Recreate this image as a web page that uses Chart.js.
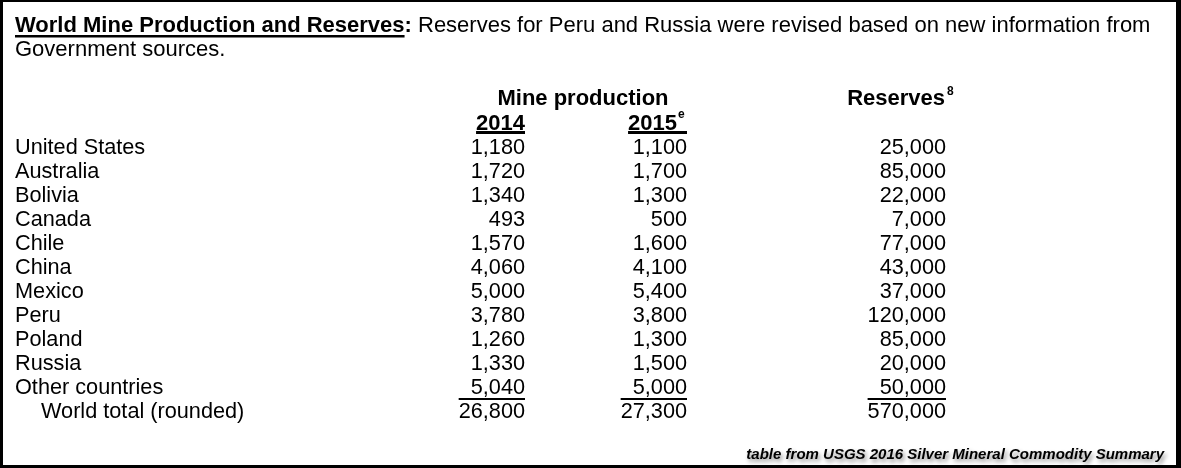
<!DOCTYPE html>
<html>
<head>
<meta charset="utf-8">
<script src="https://cdn.jsdelivr.net/npm/chart.js@4"></script>
<style>
    body { margin: 0; background: #fff; }
    #wrap { width: 1181px; height: 468px; position: relative; }
</style>
</head>
<body>
<div id="wrap"><canvas id="silverTable"></canvas></div>
<script>
// table content
const rowLabels = [
    "United States",
    "Australia",
    "Bolivia",
    "Canada",
    "Chile",
    "China",
    "Mexico",
    "Peru",
    "Poland",
    "Russia",
    "Other countries",
    "World total (rounded)"
];
const prod2014 = [1180, 1720, 1340, 493, 1570, 4060, 5000, 3780, 1260, 1330, 5040, 26800];
const prod2015 = [1100, 1700, 1300, 500, 1600, 4100, 5400, 3800, 1300, 1500, 5000, 27300];
const reserves = [25000, 85000, 22000, 7000, 77000, 43000, 37000, 120000, 85000, 20000, 50000, 570000];
const groupHeader = "Mine production";
const yearHeaders = ["2014", "2015"];
const reservesHeader = "Reserves";
const titleBold = "World Mine Production and Reserves";
const titleRest = " Reserves for Peru and Russia were revised based on new information from";
const titleLine2 = "Government sources.";
const sourceNote = "table from USGS 2016 Silver Mineral Commodity Summary";

const FONT = "'Liberation Sans', Arial, sans-serif";

function fmt(v) {
    return v.toLocaleString("en-US");
}

const tablePlugin = {
    id: "tablePlugin",
    beforeDraw(chart) {
        const ctx = chart.ctx;
        const w = chart.width, h = chart.height;
        ctx.save();
        ctx.fillStyle = "#000";
        ctx.fillRect(0, 0, w, h);
        ctx.fillStyle = "#fff";
        ctx.fillRect(3, 2, w - 8, h - 5);
        ctx.restore();
    },
    afterDraw(chart) {
        const ctx = chart.ctx;
        const xs = chart.scales.x;
        const ys = chart.scales.y;
        const col14 = xs.getPixelForValue(525);
        const col15 = xs.getPixelForValue(687);
        const colRes = xs.getPixelForValue(946);
        const colLabel = xs.getPixelForValue(15);
        ctx.save();
        ctx.fillStyle = "#000";
        ctx.textBaseline = "alphabetic";

        // title
        ctx.textAlign = "left";
        ctx.font = "bold 22px " + FONT;
        ctx.fillText(titleBold, 15, 32);
        let tw = ctx.measureText(titleBold).width;
        ctx.fillRect(15, 35, tw, 2.5);
        ctx.fillText(":", 15 + tw, 32);
        let cw = ctx.measureText(":").width;
        ctx.font = "22px " + FONT;
        ctx.fillText(titleRest, 15 + tw + cw, 32);
        ctx.fillText(titleLine2, 15, 56);

        // headers
        ctx.font = "bold 22px " + FONT;
        ctx.textAlign = "center";
        ctx.fillText(groupHeader, 583, 105);
        ctx.textAlign = "right";
        ctx.fillText(yearHeaders[0], col14, 130);
        let yw = ctx.measureText(yearHeaders[0]).width;
        ctx.fillRect(col14 - yw, 131, yw, 3);
        ctx.fillText(yearHeaders[1], col15 - 10, 130);
        yw = ctx.measureText(yearHeaders[1]).width;
        ctx.fillRect(col15 - 10 - yw, 131, yw + 10, 3);
        ctx.fillText(reservesHeader, colRes - 1, 105);
        ctx.textAlign = "left";
        ctx.font = "bold 12px " + FONT;
        ctx.fillText("e", col15 - 9, 118);
        ctx.fillText("8", colRes + 1, 95);

        // rows
        ctx.font = "21.7px " + FONT;
        rowLabels.forEach(function (label, i) {
            const y = ys.getPixelForValue(i) + 7.5;
            const last = i === rowLabels.length - 1;
            ctx.textAlign = "left";
            ctx.fillText(label, colLabel + (last ? 26 : 0), y);
            ctx.textAlign = "right";
            ctx.fillText(fmt(prod2014[i]), col14, y);
            ctx.fillText(fmt(prod2015[i]), col15, y);
            ctx.fillText(fmt(reserves[i]), colRes, y);
        });

        // total rules
        const n = rowLabels.length - 1;
        const ruleY = (ys.getPixelForValue(n - 1) + ys.getPixelForValue(n)) / 2 + 1;
        [[col14, prod2014[n]], [col15, prod2015[n]], [colRes, reserves[n]]].forEach(function (c) {
            const w = ctx.measureText(fmt(c[1])).width;
            ctx.fillRect(c[0] - w, ruleY - 1, w, 2);
        });

        // source note
        ctx.font = "italic bold 15px " + FONT;
        ctx.textAlign = "right";
        ctx.shadowColor = "rgba(0,0,0,0.45)";
        ctx.shadowOffsetX = 2;
        ctx.shadowOffsetY = 3;
        ctx.shadowBlur = 4;
        ctx.fillText(sourceNote, 1164, 459);
        ctx.restore();
    }
};

document.addEventListener("DOMContentLoaded", function () {
    const ctx = document.getElementById("silverTable").getContext("2d");

    new Chart(ctx, {
        type: "bar",
        data: {
            labels: rowLabels,
            datasets: []
        },
        options: {
            indexAxis: "y",
            responsive: true,
            maintainAspectRatio: false,
            animation: false,
            events: [],
            layout: {
                padding: { top: 134, bottom: 46, left: 0, right: 0 }
            },
            plugins: {
                legend: { display: false },
                tooltip: { enabled: false }
            },
            scales: {
                x: { type: "linear", min: 0, max: 1181, display: false },
                y: { type: "category", labels: rowLabels, offset: true, display: false }
            }
        },
        plugins: [tablePlugin]
    });
});
</script>
</body>
</html>
